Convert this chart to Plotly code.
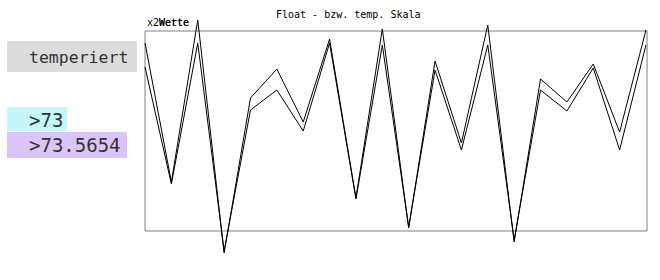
import plotly.graph_objects as go

# Data
idx = list(range(20))
werte_a = [94, 24.5, 105.5, -11, 66.5, 81, 54.5, 96, 16.5, 101, 1.5, 85, 44, 103, -5.5, 76, 64.5, 83.5, 49.5, 100.5]
werte_b = [82, 23.5, 94, -10, 60.5, 70.5, 50, 94, 16, 93, 2, 80.5, 40.5, 93, -4.5, 70.5, 60, 81.5, 40.5, 93]
title_text = "Float - bzw. temp. Skala"
label_main = "temperiert"
label_1 = ">73"
label_2 = ">73.5654"
axis_label = "x2Werte"

W, H = 660, 280
L, R, T, B = 135, 5, 10, 15
pw, ph = W - L - R, H - T - B

def px(x):
    return (x - L) / pw

def py(y):
    return (H - B - y) / ph

MONO = "DejaVu Sans Mono"

fig = go.Figure()
for ys in (werte_a, werte_b):
    fig.add_trace(go.Scatter(x=idx, y=ys, mode="lines",
                             line=dict(color="black", width=1),
                             showlegend=False, hoverinfo="skip"))

# plot frame in data coords
fig.add_shape(type="rect", xref="x", yref="y", x0=0, x1=19.04, y0=0, y1=100,
              line=dict(color="#808080", width=1), fillcolor="rgba(0,0,0,0)", layer="below")

# left label boxes
boxes = [(7, 137, 41, 72, "#dcdcdc"), (7, 67, 107, 131, "#c4f8f8"), (7, 127, 132, 158, "#dac4f8")]
for x0, x1, y0, y1, c in boxes:
    fig.add_shape(type="rect", xref="paper", yref="paper", x0=px(x0), x1=px(x1),
                  y0=py(y1), y1=py(y0), line=dict(width=0), fillcolor=c, layer="below")

texts = [(label_main, 57, 16.5), (label_1, 119.5, 19), (label_2, 145, 19)]
for t, yc, fs in texts:
    fig.add_annotation(text=t, xref="paper", yref="paper", x=px(27), y=py(yc),
                       xanchor="left", yanchor="middle", showarrow=False,
                       font=dict(family=MONO, size=fs, color="#333333"))

fig.add_annotation(text=title_text, xref="paper", yref="paper", x=px(348), y=py(14),
                   xanchor="center", yanchor="middle", showarrow=False,
                   font=dict(family=MONO, size=10, color="black"))
fig.add_annotation(text=axis_label, xref="paper", yref="paper", x=px(145), y=py(22),
                   xanchor="left", yanchor="middle", showarrow=False,
                   font=dict(family=MONO, size=10, color="black"))
fig.add_annotation(text="  Wette", xref="paper", yref="paper", x=px(145), y=py(22),
                   xanchor="left", yanchor="middle", showarrow=False,
                   font=dict(family=MONO, size=10, color="black"))

fig.update_layout(width=W, height=H, margin=dict(l=L, r=R, t=T, b=B),
                  paper_bgcolor="white", plot_bgcolor="white")
fig.update_xaxes(range=[-10 / 26.316, 19 + 9 / 26.316], visible=False, showgrid=False)
fig.update_yaxes(range=[(231 - (H - B)) / 2, (231 - T) / 2], visible=False, showgrid=False)

fig.write_html("out.html")
